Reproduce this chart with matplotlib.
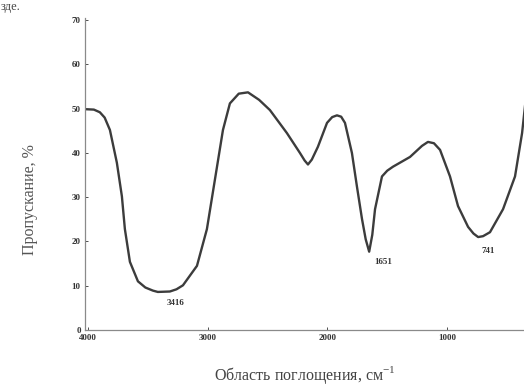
import matplotlib.pyplot as plt

plt.rcParams['font.family'] = ['Liberation Serif', 'DejaVu Serif']
plt.rcParams['mathtext.fontset'] = 'custom'
plt.rcParams['mathtext.rm'] = 'Liberation Serif'

# ИК-спектр, точки
wavenumber = [4025, 3950, 3900, 3860, 3816, 3758, 3716, 3691, 3649, 3582,
              3520, 3457, 3416, 3315, 3260, 3206, 3089, 3006, 2939, 2872,
              2814, 2740, 2663, 2570, 2480, 2338, 2229, 2190, 2162, 2130,
              2079, 2003, 1960, 1920, 1885, 1853, 1795, 1753, 1711, 1680,
              1651, 1625, 1602, 1544, 1500, 1452, 1310, 1210, 1160, 1110,
              1059, 976, 909, 825, 780, 741, 700, 642, 533, 433,
              374, 340]
transmittance = [49.9, 49.8, 49.2, 48.0, 45.2, 37.8, 30.2, 22.8, 15.4, 11.0,
                 9.6, 8.9, 8.6, 8.7, 9.2, 10.1, 14.5, 22.8, 34.0, 45.2,
                 51.2, 53.4, 53.7, 52.0, 49.7, 44.5, 40.0, 38.3, 37.4, 38.5,
                 41.4, 46.8, 48.1, 48.5, 48.2, 46.8, 40.0, 32.4, 25.1, 20.5,
                 17.7, 21.5, 27.3, 34.7, 36.0, 36.9, 39.1, 41.6, 42.5, 42.2,
                 40.7, 34.7, 28.0, 23.3, 21.8, 21.0, 21.2, 22.1, 27.3, 34.7,
                 44.5, 53.0]

peaks = ['3416', '1651', '741']
peak_label_pos = [(3270, 6.0), (1530, 15.4), (658, 17.9)]

xticks = [4000, 3000, 2000, 1000]
yticks = [0, 10, 20, 30, 40, 50, 60, 70]

fig = plt.figure(figsize=(5.24, 3.91), dpi=100)
ax = fig.add_axes([0.162, 0.156, 0.838, 0.798])

ax.plot(wavenumber, transmittance, color='#3c3c3c', lw=1.7,
        solid_joinstyle='round')

ax.set_xlim(4025, 358)
ax.set_ylim(0, 70.5)

for lab, (x, y) in zip(peaks, peak_label_pos):
    ax.text(x, y, lab, fontsize=6.5, fontweight='bold', color='#333333',
            ha='center', va='center')

ax.set_xticks(xticks)
ax.set_xticklabels([str(t) for t in xticks])
ax.set_yticks(yticks)
ax.set_yticklabels([str(t) for t in yticks])
ax.tick_params(axis='both', labelsize=6.5, colors='#333333', length=2,
               width=0.6, direction='in', pad=3)
for lab in ax.get_xticklabels() + ax.get_yticklabels():
    lab.set_fontweight('bold')

for s in ['top', 'right']:
    ax.spines[s].set_visible(False)
for s in ['left', 'bottom']:
    ax.spines[s].set_color('#8a8a8a')
    ax.spines[s].set_linewidth(0.9)

fig.text(0.057, 0.49, 'Пропускание, %', rotation=90, fontsize=11.5,
         color='#555555', ha='center', va='center')
fig.text(0.582, 0.04, 'Область поглощения, см$^{-1}$', fontsize=11.5,
         color='#444444', ha='center', va='center')
fig.text(0.002, 0.998, 'зде.', fontsize=9, color='#444444',
         ha='left', va='top')

fig.savefig('out.png', dpi=100, facecolor='white')
